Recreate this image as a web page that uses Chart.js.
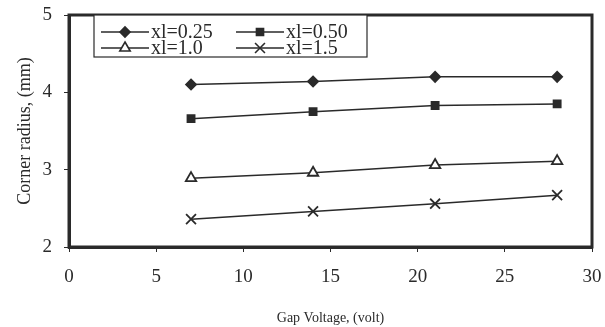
<!DOCTYPE html>
<html>
<head>
<meta charset="utf-8">
<script src="https://cdn.jsdelivr.net/npm/chart.js@4.4.0/dist/chart.umd.min.js"></script>
<style>
  html, body { margin: 0; padding: 0; background: #fff; }
  #wrap { width: 605px; height: 327px; position: relative; }
</style>
</head>
<body>
<div id="wrap"><canvas id="radiusChart"></canvas></div>
<script>
  // gap voltage (volt)
  const voltage = [7, 14, 21, 28];

  // corner radius (mm) for each xl
  const xl025 = [4.10, 4.14, 4.20, 4.20];
  const xl050 = [3.66, 3.75, 3.83, 3.85];
  const xl10 = [2.89, 2.96, 3.06, 3.11];
  const xl15 = [2.36, 2.46, 2.56, 2.67];

  const seriesNames = ['xl=0.25', 'xl=0.50', 'xl=1.0', 'xl=1.5'];
  const xTicks = [0, 5, 10, 15, 20, 25, 30];
  const yTicks = [2, 3, 4, 5];

  const ink = '#2a2a2a';
  const serif = "'Liberation Serif', 'DejaVu Serif', serif";

  function pts(ys) {
    return voltage.map((v, i) => ({ x: v, y: ys[i] }));
  }

  const styles = [
    { pointStyle: 'rectRot', radius: 5, fill: ink },
    { pointStyle: 'rect', radius: 5, fill: ink },
    { pointStyle: 'triangle', radius: 6, fill: '#fff' },
    { pointStyle: 'crossRot', radius: 7, fill: ink }
  ];

  const datasets = [xl025, xl050, xl10, xl15].map((ys, i) => ({
    label: seriesNames[i],
    data: pts(ys),
    borderColor: ink,
    borderWidth: 1.5,
    pointStyle: styles[i].pointStyle,
    pointRadius: styles[i].radius,
    pointBackgroundColor: styles[i].fill,
    pointBorderColor: ink,
    pointBorderWidth: 1.8,
    showLine: true,
    fill: false
  }));

  // frame round the plot area + legend box inside it
  const framePlugin = {
    id: 'frame',
    afterDatasetsDraw(chart) {
      const { ctx, chartArea: a } = chart;
      ctx.save();
      ctx.strokeStyle = ink;
      ctx.lineWidth = 3;
      ctx.strokeRect(a.left, a.top, a.right - a.left, a.bottom - a.top);

      // legend
      const bx = a.left + 25, by = a.top, bw = 273, bh = 42;
      ctx.lineWidth = 1.2;
      ctx.fillStyle = '#fff';
      ctx.fillRect(bx, by, bw, bh);
      ctx.strokeRect(bx, by, bw, bh);
      ctx.font = '20px ' + serif;
      ctx.textBaseline = 'middle';
      const cols = [bx + 7, bx + 142];
      const rows = [by + 17, by + 33];
      chart.data.datasets.forEach((ds, i) => {
        const x0 = cols[i % 2], y0 = rows[Math.floor(i / 2)];
        ctx.strokeStyle = ink;
        ctx.lineWidth = 1.6;
        ctx.beginPath();
        ctx.moveTo(x0, y0);
        ctx.lineTo(x0 + 48, y0);
        ctx.stroke();
        ctx.fillStyle = ds.pointBackgroundColor;
        Chart.helpers.drawPoint(ctx, {
          pointStyle: ds.pointStyle,
          radius: ds.pointRadius,
          borderWidth: 1.8
        }, x0 + 24, y0);
        ctx.fillStyle = ink;
        ctx.fillText(ds.label, x0 + 50, y0 + 1);
      });
      ctx.restore();
    }
  };

  new Chart(document.getElementById('radiusChart'), {
    type: 'scatter',
    data: { datasets: datasets },
    options: {
      responsive: true,
      maintainAspectRatio: false,
      animation: false,
      layout: { padding: { top: 15, right: 13, left: 0, bottom: 0 } },
      plugins: {
        legend: { display: false },
        tooltip: { enabled: false }
      },
      scales: {
        x: {
          type: 'linear',
          min: 0,
          max: 30,
          afterFit: s => { s.height = 80; s.paddingLeft = 0; s.paddingRight = 0; },
          afterBuildTicks: s => { s.ticks = xTicks.map(v => ({ value: v })); },
          grid: { drawOnChartArea: false, tickLength: 5, color: ink, tickWidth: 1 },
          border: { color: ink, width: 3 },
          ticks: { color: ink, padding: 14, font: { family: serif, size: 19 } },
          title: {
            display: true,
            text: 'Gap Voltage, (volt)',
            color: ink,
            padding: { top: 0, bottom: 0 },
            font: { family: serif, size: 14 }
          }
        },
        y: {
          type: 'linear',
          min: 2,
          max: 5,
          afterFit: s => { s.width = 69; s.paddingTop = 0; s.paddingBottom = 0; },
          afterBuildTicks: s => { s.ticks = yTicks.map(v => ({ value: v })); },
          grid: { drawOnChartArea: false, tickLength: 5, color: ink, tickWidth: 1 },
          border: { color: ink, width: 3 },
          ticks: { color: ink, padding: 12, font: { family: serif, size: 19 } },
          title: {
            display: true,
            text: 'Corner radius, (mm)',
            color: ink,
            padding: { top: 14, bottom: 0 },
            font: { family: serif, size: 18 }
          }
        }
      }
    },
    plugins: [framePlugin]
  });
</script>
</body>
</html>
